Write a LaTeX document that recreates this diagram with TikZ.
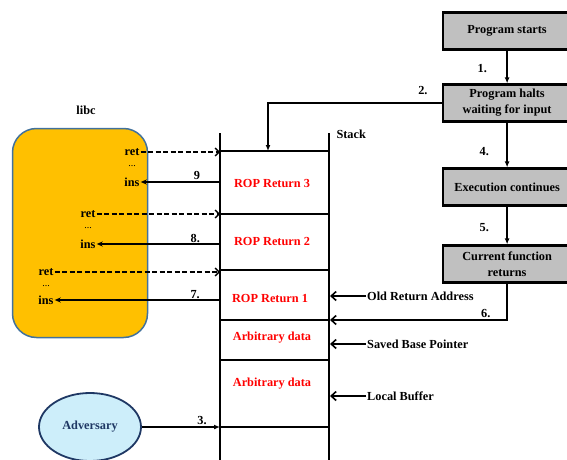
\documentclass[tikz,border=0pt]{standalone}
\usepackage{fontspec}
\setmainfont{Liberation Serif}
\usetikzlibrary{arrows.meta,shapes.geometric}
\definecolor{libcfill}{HTML}{FFC000}
\definecolor{libcdraw}{HTML}{41719C}
\definecolor{advfill}{HTML}{CDEEFA}
\definecolor{advdraw}{HTML}{1F3864}
\definecolor{stepfill}{HTML}{C0C0C0}

\begin{document}
\begin{tikzpicture}[
  x=1pt, y=-1pt,
  font=\fontsize{12.3}{16}\selectfont\bfseries,
  flowbox/.style={draw, line width=2.2pt, fill=stepfill, align=center, minimum width=128pt, minimum height=37pt, anchor=west},
  redtxt/.style={text=red},
  lbl/.style={inner sep=1pt},
  flow/.style={-{Latex[length=6pt,width=5pt]}, line width=1.6pt},
  ptr/.style={-{Straight Barb[length=5pt,width=9pt]}, line width=1.6pt},
  jump/.style={-{Stealth[length=6pt,width=5pt]}, line width=1.4pt},
  gadget/.style={-{Straight Barb[length=4pt,width=8pt]}, line width=1.4pt, dash pattern=on 5pt off 2.5pt},
  stackline/.style={line width=1.3pt}
]
\useasboundingbox (0,0) rectangle (567,460);
\clip (0,0) rectangle (567,460);

% program flow
\node[flowbox] (start) at (442,31) {Program starts};
\node[flowbox] (halts) at (442,103) {Program halts\\waiting for input};
\node[flowbox] (exec) at (442,187) {Execution continues};
\node[flowbox] (cfret) at (442,264) {Current function\\returns};

% stack
\coordinate (stl) at (220,0);
\coordinate (str) at (330,0);
\coordinate (tos) at (268,151);
\draw[stackline] (220,133) -- (220,470);
\draw[stackline] (329,133) -- (329,470);
\foreach \y in {151,214,320,360,427}
  \draw[stackline] (220,\y) -- (329,\y);
\draw[line width=2pt] (220,270) -- (329,270);
\node[anchor=west] (stack) at (333,134) {Stack};

\node[redtxt] (rop3) at (272,184) {ROP Return 3};
\node[redtxt] (rop2) at (272,242) {ROP Return 2};
\node[redtxt] (rop1) at (270,298) {ROP Return 1};
\node[redtxt] (arb1) at (272,338) {Arbitrary data};
\node[redtxt] (arb2) at (272,384) {Arbitrary data};

\node[anchor=west, lbl] (oldret) at (366,296) {Old Return Address};
\node[anchor=west, lbl] (sbp) at (366,344) {Saved Base Pointer};
\node[anchor=west, lbl] (buf) at (366,396) {Local Buffer};
\draw[ptr] (oldret.west) -- (oldret.west -| str);
\draw[ptr] (sbp.west) -- (sbp.west -| str);
\draw[ptr] (buf.west) -- (buf.west -| str);

% libc
\node[draw=libcdraw, fill=libcfill, rounded corners=24pt, line width=1.5pt,
  minimum width=135pt, minimum height=209pt] (libc) at (80,233) {};
\node (libclbl) at (86,110) {libc};

\node[lbl] (retc) at (132,152) {ret};
\node[lbl, font=\fontsize{10}{12}\selectfont] (dotc) at (132,166) {...};
\node[lbl] (insc) at (132,182) {ins};
\node[lbl] (retb) at (88,214) {ret};
\node[lbl, font=\fontsize{10}{12}\selectfont] (dotb) at (88,228) {...};
\node[lbl] (insb) at (88,244) {ins};
\node[lbl] (reta) at (46,272) {ret};
\node[lbl, font=\fontsize{10}{12}\selectfont] (dota) at (46,286) {...};
\node[lbl] (insa) at (46,300) {ins};

\draw[gadget] (retc.east) -- (retc.east -| stl);
\draw[gadget] (retb.east) -- (retb.east -| stl);
\draw[gadget] (reta.east) -- (reta.east -| stl);
\draw[jump, line width=2pt] (insc.east -| stl) -- node[above, pos=0.29, inner sep=1pt] {9} (insc.east);
\draw[jump] (insb.east -| stl) -- node[above, pos=0.2, inner sep=1pt] {8.} (insb.east);
\draw[jump] (insa.east -| stl) -- node[above, pos=0.15, inner sep=1pt] {7.} (insa.east);

% adversary
\node[ellipse, draw=advdraw, fill=advfill, text=advdraw, line width=1.8pt,
  minimum width=102pt, minimum height=68pt] (adv) at (90,427) {Adversary};
\draw[flow] (adv.east) -- node[above, pos=0.77, inner sep=2pt] {3.} (adv.east -| stl);

% numbered steps
\draw[flow] (start) -- node[left=16pt, pos=0.55] {1.} (halts);
\draw[flow] (halts.west) -| node[above=4pt, pos=0.055] {2.} (tos);
\draw[flow] (halts) -- node[left=14pt, pos=0.65] {4.} (exec);
\draw[flow] (exec) -- node[left=14pt, pos=0.55] {5.} (cfret);
\draw[ptr] (cfret.south) |- node[above, pos=0.56, inner sep=2pt] {6.} (330,320);
\end{tikzpicture}
\end{document}
